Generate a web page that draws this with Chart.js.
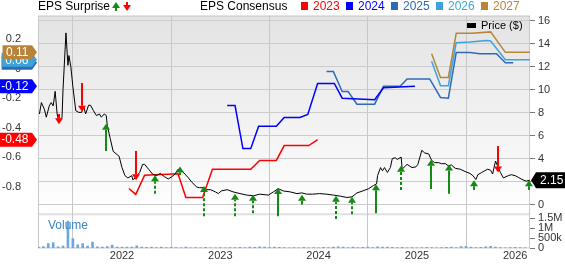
<!DOCTYPE html>
<html>
<head>
<meta charset="utf-8">
<script src="https://cdn.jsdelivr.net/npm/chart.js@4.4.1/dist/chart.umd.min.js"></script>
<style>
  html, body { margin: 0; padding: 0; background: #fff; }
  #wrap { width: 565px; height: 264px; }
</style>
</head>
<body>
<div id="wrap"><canvas id="eps" width="565" height="264"></canvas></div>
<script>

// price ($), dates as decimal years
var priceDates = [2021.16, 2021.18, 2021.21, 2021.23, 2021.26, 2021.28, 2021.30, 2021.32, 2021.34, 2021.36,
    2021.39, 2021.40, 2021.43, 2021.45, 2021.46, 2021.48, 2021.50, 2021.53, 2021.56, 2021.59,
    2021.61, 2021.63, 2021.66, 2021.68, 2021.71, 2021.74, 2021.77, 2021.79, 2021.82, 2021.84,
    2021.85, 2021.88, 2021.91, 2021.95, 2021.97, 2022.00, 2022.03, 2022.06, 2022.10, 2022.11,
    2022.15, 2022.18, 2022.21, 2022.23, 2022.27, 2022.31, 2022.35, 2022.39, 2022.43, 2022.47,
    2022.50, 2022.54, 2022.57, 2022.61, 2022.64, 2022.67, 2022.71, 2022.76, 2022.79, 2022.83,
    2022.86, 2022.90, 2022.95, 2022.98, 2023.01, 2023.07, 2023.13, 2023.20, 2023.27, 2023.34,
    2023.40, 2023.49, 2023.54, 2023.59, 2023.64, 2023.71, 2023.78, 2023.83, 2023.88, 2023.94,
    2024.01, 2024.08, 2024.15, 2024.22, 2024.29, 2024.34, 2024.39, 2024.45, 2024.51, 2024.56,
    2024.59, 2024.60, 2024.63, 2024.65, 2024.67, 2024.70, 2024.73, 2024.75, 2024.78, 2024.80,
    2024.84, 2024.85, 2024.90, 2024.95, 2024.99, 2025.01, 2025.05, 2025.08, 2025.12, 2025.15,
    2025.18, 2025.22, 2025.25, 2025.29, 2025.32, 2025.35, 2025.39, 2025.44, 2025.49, 2025.54,
    2025.57, 2025.60, 2025.62, 2025.66, 2025.69, 2025.72, 2025.75, 2025.77, 2025.80, 2025.82,
    2025.85, 2025.88, 2025.93, 2025.96, 2026.00, 2026.03, 2026.06, 2026.11, 2026.15];
var priceValues = [7.90, 8.89, 8.32, 7.62, 8.60, 8.89, 8.60, 9.87, 7.90, 7.20,
    7.62, 10.02, 14.95, 12.13, 12.98, 11.99, 10.30, 8.18, 8.04, 8.04,
    8.55, 7.90, 8.66, 8.66, 8.18, 7.76, 7.90, 7.62, 7.90, 7.76,
    6.91, 5.78, 4.66, 4.37, 4.23, 3.24, 2.54, 2.34, 2.54, 2.17,
    2.46, 2.82, 3.52, 3.52, 3.10, 2.68, 2.54, 2.73, 2.46, 2.25,
    2.40, 2.68, 3.10, 2.96, 2.68, 2.40, 1.97, 1.55, 1.49, 1.49,
    1.32, 1.32, 1.13, 0.98, 1.21, 1.32, 1.13, 0.98, 0.85, 0.79,
    0.93, 0.85, 1.13, 1.41, 1.21, 1.13, 0.98, 1.04, 0.93, 0.93,
    0.98, 0.93, 0.85, 0.76, 0.64, 0.70, 1.04, 1.21, 1.41, 1.69,
    1.83, 2.54, 3.24, 2.96, 3.24, 2.82, 3.24, 4.03, 4.09, 3.95,
    4.15, 3.10, 3.52, 3.24, 3.30, 3.52, 4.74, 4.51, 4.43, 3.86,
    3.67, 3.67, 3.58, 3.58, 3.39, 3.47, 3.18, 3.10, 2.90, 2.73,
    2.54, 2.20, 2.62, 2.82, 2.96, 3.10, 3.01, 2.68, 3.81, 3.39,
    2.82, 2.34, 2.54, 2.62, 2.54, 2.40, 2.25, 2.06, 2.15];

// EPS consensus per fiscal year
var cons2023Dates = [2022.07, 2022.14, 2022.23, 2022.57, 2022.65, 2022.82, 2022.92, 2023.31, 2023.40, 2023.57, 2023.65, 2023.90, 2023.99];
var cons2023Values = [-0.81, -0.85, -0.72, -0.71, -0.87, -0.87, -0.68, -0.68, -0.62, -0.62, -0.52, -0.52, -0.48];
var cons2024Dates = [2023.07, 2023.15, 2023.23, 2023.31, 2023.39, 2023.57, 2023.65, 2023.81, 2023.89, 2023.99, 2024.16, 2024.24, 2024.57, 2024.66, 2024.98];
var cons2024Values = [-0.25, -0.25, -0.54, -0.54, -0.39, -0.39, -0.33, -0.33, -0.31, -0.10, -0.10, -0.20, -0.21, -0.13, -0.12];
var cons2025Dates = [2024.08, 2024.15, 2024.24, 2024.30, 2024.39, 2024.57, 2024.66, 2024.83, 2024.90, 2025.13, 2025.24, 2025.32, 2025.40, 2025.54, 2025.64, 2025.81, 2025.90, 2025.98];
var cons2025Values = [-0.02, -0.02, -0.155, -0.155, -0.24, -0.24, -0.12, -0.12, -0.07, -0.07, -0.195, -0.20, 0.108, 0.108, 0.10, 0.10, 0.04, 0.04];
var cons2026Dates = [2025.15, 2025.24, 2025.32, 2025.40, 2025.54, 2025.71, 2025.75, 2025.90, 2026.15];
var cons2026Values = [0.05, -0.115, -0.115, 0.175, 0.18, 0.19, 0.187, 0.06, 0.06];
var cons2027Dates = [2025.15, 2025.24, 2025.32, 2025.40, 2025.56, 2025.75, 2025.90, 2026.15];
var cons2027Values = [0.10, -0.06, -0.06, 0.238, 0.238, 0.248, 0.11, 0.11];

// EPS surprises: arrow runs from tail price to tip price
var surpriseDates = [2021.36, 2021.59, 2021.84, 2022.14, 2022.34, 2022.59, 2022.83, 2023.15, 2023.33, 2023.59,
    2023.83, 2024.18, 2024.34, 2024.58, 2024.84, 2025.14, 2025.33, 2025.58, 2025.83, 2026.14];
var surpriseTip = [7.0, 8.1, 7.05, 2.14, 2.57, 3.33, 1.63, 0.96, 0.87, 1.47,
    0.87, 0.79, 0.70, 1.80, 3.41, 3.92, 3.50, 2.14, 2.82, 2.14];
var surpriseTail = [7.9, 10.6, 4.68, 4.68, 0.96, 2.57, -0.99, -0.99, -0.74, -0.99,
    0.03, -1.24, -0.82, -0.74, 1.30, 1.38, 0.96, 1.30, 5.11, 1.30];
var surpriseDashed = [0, 0, 0, 0, 1, 0, 1, 1, 1, 0,
    0, 1, 1, 0, 1, 0, 0, 0, 0, 0];

// volume in thousands, one bar every volStep years from volStart
var volStart = 2021.15, volStep = 0.05;
var volValues = [60, 90, 240, 290, 80, 120, 1360, 485, 180, 240,
    110, 320, 80, 70, 90, 160, 70, 60, 70, 60,
    130, 60, 50, 70, 40, 60, 40, 50, 40, 30,
    60, 30, 40, 30, 50, 30, 30, 40, 30, 40,
    35, 50, 40, 60, 50, 80, 60, 40, 70, 50,
    40, 30, 40, 30, 50, 30, 40, 30, 50, 40,
    60, 80, 60, 40, 70, 40, 50, 60, 40, 80,
    60, 70, 50, 40, 50, 30, 40, 30, 40, 50,
    40, 30, 40, 50, 60, 40, 90, 100, 60, 40,
    50, 80, 100, 70, 40, 30, 40, 50, 40, 30];

var yearTicks = [2022, 2023, 2024, 2025, 2026];
var epsTicks = [-0.8, -0.6, -0.4, -0.2, 0, 0.2];
var priceTicks = [0, 2, 4, 6, 8, 10, 12, 14, 16];
var volTicks = [0, 500, 1000, 1500];
var volTickLabels = ['0', '500k', '1M', '1.5M'];
var consYears = ['2023', '2024', '2025', '2026', '2027'];

var consColors = ['#ff0000', '#0000ff', '#2f69b8', '#3ea3d8', '#b8843a'];
var upColor = '#138a13', downColor = '#ff0000';
var FONT = '"Liberation Sans", Arial, sans-serif';

function pairs(xs, ys) {
    var out = [];
    for (var i = 0; i < xs.length; i++) out.push({ x: xs[i], y: ys[i] });
    return out;
}

var consDates = [cons2023Dates, cons2024Dates, cons2025Dates, cons2026Dates, cons2027Dates];
var consValues = [cons2023Values, cons2024Values, cons2025Values, cons2026Values, cons2027Values];

var datasets = [{
    label: 'Price ($)',
    data: pairs(priceDates, priceValues),
    yAxisID: 'yPrice',
    borderColor: '#000',
    borderWidth: 1,
    pointRadius: 0,
    tension: 0,
    order: 0
}];
for (var k = 0; k < consYears.length; k++) {
    datasets.push({
        label: consYears[k],
        data: pairs(consDates[k], consValues[k]),
        yAxisID: 'yEps',
        borderColor: consColors[k],
        borderWidth: 1.5,
        pointRadius: 0,
        tension: 0,
        order: 1
    });
}
var volData = [];
for (var v = 0; v < volValues.length; v++) volData.push({ x: volStart + v * volStep, y: volValues[v] });
datasets.push({
    type: 'bar',
    label: 'Volume',
    data: volData,
    yAxisID: 'yVol',
    backgroundColor: '#6fa8dc',
    barThickness: 2,
    order: 2
});

function drawArrow(ctx, x, tipY, tailY, color, dashed) {
    var dir = tailY > tipY ? 1 : -1;
    var headH = 6, headW = 4;
    ctx.strokeStyle = color;
    ctx.fillStyle = color;
    ctx.lineWidth = 2;
    if (Math.abs(tailY - tipY) > headH) {
        ctx.setLineDash(dashed ? [3, 2] : []);
        ctx.beginPath();
        ctx.moveTo(x, tailY);
        ctx.lineTo(x, tipY + dir * headH);
        ctx.stroke();
        ctx.setLineDash([]);
    }
    ctx.beginPath();
    ctx.moveTo(x, tipY);
    ctx.lineTo(x - headW, tipY + dir * headH);
    ctx.lineTo(x + headW, tipY + dir * headH);
    ctx.closePath();
    ctx.fill();
}

// tag shaped label with its point at tipX
function drawTag(ctx, text, color, tipX, cy, pointsLeft) {
    ctx.font = '12px ' + FONT;
    var w = ctx.measureText(text).width + 7, h = 14, p = 5;
    ctx.fillStyle = color;
    ctx.beginPath();
    if (pointsLeft) {
        ctx.moveTo(tipX, cy);
        ctx.lineTo(tipX + p, cy - h / 2 - 1);
        ctx.lineTo(tipX + p + w + 4, cy - h / 2 - 1);
        ctx.lineTo(tipX + p + w + 4, cy + h / 2 + 1);
        ctx.lineTo(tipX + p, cy + h / 2 + 1);
    } else {
        ctx.moveTo(tipX, cy);
        ctx.lineTo(tipX - p, cy - h / 2);
        ctx.lineTo(tipX - p - w, cy - h / 2);
        ctx.lineTo(tipX - p - w, cy + h / 2);
        ctx.lineTo(tipX - p, cy + h / 2);
    }
    ctx.closePath();
    ctx.fill();
    ctx.fillStyle = '#fff';
    ctx.textBaseline = 'middle';
    ctx.textAlign = 'left';
    ctx.fillText(text, pointsLeft ? tipX + p + 4 : tipX - p - w + 3.5, cy + 0.5);
}

var decor = {
    id: 'decor',
    afterLayout: function (chart) {
        // volume ticks share the price axis column on the right
        var yv = chart.scales.yVol, yp = chart.scales.yPrice;
        yv.left = yp.left;
        yv.right = yp.right;
        yv.width = yp.right - yp.left;
    },
    beforeDraw: function (chart) {
        var ctx = chart.ctx, a = chart.chartArea, yv = chart.scales.yVol;
        var sepTop = yv.getPixelForValue(1750), sepBot = yv.getPixelForValue(1650);
        ctx.save();
        var g = ctx.createLinearGradient(0, a.top, 0, sepTop);
        g.addColorStop(0, '#e3e3e3');
        g.addColorStop(1, '#ffffff');
        ctx.fillStyle = g;
        ctx.fillRect(a.left, a.top, a.right - a.left, sepTop - a.top);
        ctx.fillStyle = '#e0e0e0';
        ctx.fillRect(a.left, sepTop, a.right - a.left, sepBot - sepTop);
        ctx.restore();
    },
    beforeDatasetsDraw: function (chart) {
        var ctx = chart.ctx, a = chart.chartArea;
        ctx.save();
        ctx.strokeStyle = '#c8c8c8';
        ctx.lineWidth = 1;
        ctx.strokeRect(a.left + 0.5, a.top + 0.5, a.right - a.left - 1, a.bottom - a.top - 1);
        ctx.restore();
    },
    afterDatasetsDraw: function (chart) {
        var ctx = chart.ctx, xs = chart.scales.x, yp = chart.scales.yPrice;
        ctx.save();
        for (var i = 0; i < surpriseDates.length; i++) {
            var x = Math.round(xs.getPixelForValue(surpriseDates[i]));
            var up = surpriseTail[i] < surpriseTip[i];
            drawArrow(ctx, x, yp.getPixelForValue(surpriseTip[i]), yp.getPixelForValue(surpriseTail[i]),
                up ? upColor : downColor, surpriseDashed[i]);
        }
        ctx.restore();
    },
    afterDraw: function (chart) {
        var ctx = chart.ctx, a = chart.chartArea, ye = chart.scales.yEps, yp = chart.scales.yPrice;
        ctx.save();
        // current consensus tags on the left axis
        for (var k = 0; k < consYears.length; k++) {
            var vals = consValues[k], last = vals[vals.length - 1];
            drawTag(ctx, last.toFixed(2), consColors[k], a.left - 1, ye.getPixelForValue(last), false);
        }
        // last price tag
        var lp = priceValues[priceValues.length - 1];
        drawTag(ctx, lp.toFixed(2), '#000', a.right + 1, yp.getPixelForValue(lp), true);

        // header row
        ctx.textBaseline = 'middle';
        ctx.textAlign = 'left';
        ctx.font = '12px ' + FONT;
        ctx.fillStyle = '#000';
        ctx.fillText('EPS Surprise', a.left, 6.5);
        var ax = a.left + ctx.measureText('EPS Surprise').width + 4;
        drawArrow(ctx, ax + 2, 2, 11, upColor, 0);
        drawArrow(ctx, ax + 13, 11, 2, downColor, 0);
        ctx.fillStyle = '#000';
        ctx.fillText('EPS Consensus', 200, 6.5);
        for (k = 0; k < consYears.length; k++) {
            var lx = 301 + k * 45;
            ctx.fillStyle = consColors[k];
            ctx.fillRect(lx, 2, 7, 8);
            ctx.fillText(consYears[k], lx + 12, 6.5);
        }
        // price legend
        ctx.font = '11px ' + FONT;
        ctx.fillStyle = '#000';
        ctx.fillRect(a.right - 63, 23, 9, 5);
        ctx.fillText('Price ($)', a.right - 49, 26);
        // volume label
        ctx.font = '12px ' + FONT;
        ctx.fillStyle = '#3d85c6';
        ctx.fillText('Volume', a.left + 10, chart.scales.yVol.getPixelForValue(1150));
        ctx.restore();
    }
};

Chart.defaults.font.family = FONT;
Chart.defaults.color = '#333';

var chart = new Chart(document.getElementById('eps').getContext('2d'), {
    type: 'line',
    data: { datasets: datasets },
    options: {
        responsive: false,
        animation: false,
        devicePixelRatio: 1,
        layout: { padding: { top: 14, left: 0, right: 0, bottom: 0 } },
        plugins: { legend: { display: false }, tooltip: { enabled: false } },
        scales: {
            x: {
                type: 'linear',
                min: 2021.1455,
                max: 2026.1506,
                offset: false,
                afterBuildTicks: function (s) { s.ticks = yearTicks.map(function (v) { return { value: v }; }); },
                afterFit: function (s) { s.height = 11; },
                ticks: { font: { size: 11 }, padding: 1, maxRotation: 0, callback: function (v) { return String(v); } },
                grid: { color: '#c8c8c8', drawTicks: false },
                border: { display: false }
            },
            yEps: {
                type: 'linear',
                position: 'left',
                min: -1.2145,
                max: 0.358,
                afterBuildTicks: function (s) { s.ticks = epsTicks.map(function (v) { return { value: v }; }); },
                afterFit: function (s) { s.width = 38; },
                ticks: { font: { size: 11 }, padding: 9 },
                grid: { display: false },
                border: { display: false }
            },
            yVol: {
                type: 'linear',
                position: 'right',
                weight: 0,
                min: 0,
                max: 11600,
                afterBuildTicks: function (s) { s.ticks = volTicks.map(function (v) { return { value: v }; }); },
                afterFit: function (s) { s.width = 0; },
                ticks: { font: { size: 11 }, padding: 3, callback: function (v, i) { return volTickLabels[i]; } },
                grid: { drawOnChartArea: false, tickLength: 5, tickColor: '#777' },
                border: { display: false }
            },
            yPrice: {
                type: 'linear',
                position: 'right',
                weight: 1,
                min: -3.785,
                max: 16.452,
                afterBuildTicks: function (s) { s.ticks = priceTicks.map(function (v) { return { value: v }; }); },
                afterFit: function (s) { s.width = 35; },
                ticks: { font: { size: 11 }, padding: 3 },
                grid: { color: '#cccccc', tickLength: 5, tickColor: '#777' },
                border: { display: false }
            }
        }
    },
    plugins: [decor]
});
</script>
</body>
</html>
